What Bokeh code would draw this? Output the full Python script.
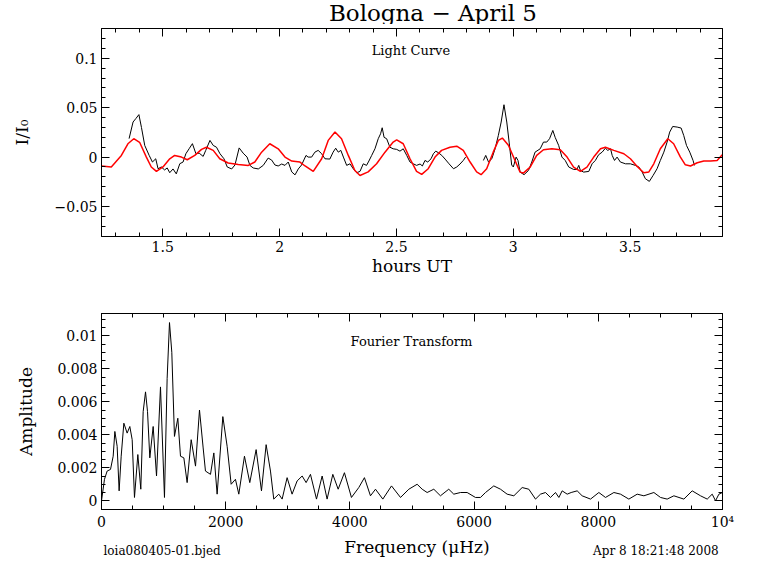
from bokeh.plotting import figure
from bokeh.models import FixedTicker, LinearAxis, Label, Range1d, CustomLabelingPolicy
from bokeh.layouts import column
from bokeh.embed import file_html
from bokeh.resources import INLINE

# ---------------- data: light curve (hours UT, I/I0) ----------------
lc1_hours = [1.356, 1.373, 1.385, 1.398, 1.409, 1.423, 1.442, 1.456, 1.470, 1.480, 1.494, 1.508, 1.519,
             1.530, 1.544, 1.558, 1.573, 1.587, 1.599, 1.613, 1.627, 1.642, 1.656, 1.673, 1.684, 1.702,
             1.716, 1.730, 1.745, 1.762, 1.776, 1.795, 1.809, 1.827, 1.844, 1.861, 1.873, 1.887, 1.909,
             1.930, 1.951, 1.966, 1.980, 1.994, 2.009, 2.023, 2.037, 2.052, 2.066, 2.080, 2.094, 2.113,
             2.122, 2.137, 2.151, 2.165, 2.180, 2.194, 2.215, 2.229, 2.240, 2.251, 2.262, 2.273, 2.287,
             2.301, 2.315, 2.330, 2.344, 2.358, 2.372, 2.382, 2.394, 2.408, 2.422, 2.432, 2.439, 2.447,
             2.458, 2.472, 2.486, 2.501, 2.515, 2.529, 2.544, 2.558, 2.572, 2.586, 2.601, 2.611, 2.622,
             2.634, 2.648, 2.658, 2.668, 2.679, 2.694, 2.708, 2.725, 2.744, 2.758, 2.772, 2.786, 2.796]
lc1_flux = [0.0187, 0.0355, 0.039, 0.043, 0.030, 0.0118, 0.0017, -0.005, -0.0017, -0.0118, -0.010, -0.013, -0.011,
            -0.0158, -0.012, -0.017, -0.0067, -0.005, 0.0034, 0.0085, 0.0136, 0.0034, 0.004, 0.0007, 0.0068, 0.0169,
            0.0118, 0.010, 0.0034, -0.0017, -0.010, -0.012, -0.008, 0.0093, 0.004, 0.0, -0.0084, -0.011, -0.012,
            -0.0084, -0.001, -0.003, -0.008, -0.009, -0.007, -0.0084, -0.005, -0.015, -0.018, -0.012, -0.008, 0.0017,
            0.0, 0.0, 0.005, 0.0068, 0.0034, -0.0017, -0.002, 0.005, 0.009, 0.005, 0.0068, 0.0, -0.0084,
            -0.0068, -0.0118, -0.0158, -0.0145, -0.0068, -0.0084, -0.004, 0.0017, 0.0084, 0.0186, 0.0236, 0.0297, 0.020,
            0.0186, 0.010, 0.0084, 0.0078, 0.006, 0.0084, 0.0017, -0.005, -0.0068, -0.0084, -0.007, -0.009, -0.0034,
            -0.005, -0.0017, 0.0034, 0.006, 0.0045, 0.0017, -0.002, -0.0068, -0.0118, -0.010, -0.007, -0.0034, 0.0]

lc2_hours = [2.872, 2.882, 2.894, 2.908, 2.922, 2.936, 2.948, 2.960, 2.972, 2.982, 2.993, 3.000, 3.012,
             3.020, 3.029, 3.046, 3.065, 3.079, 3.093, 3.115, 3.129, 3.143, 3.155, 3.169, 3.179, 3.194,
             3.208, 3.222, 3.237, 3.258, 3.272, 3.280, 3.287, 3.301, 3.323, 3.337, 3.351, 3.365, 3.380,
             3.394, 3.404, 3.416, 3.423, 3.433, 3.444, 3.458, 3.480, 3.501, 3.522, 3.537, 3.551, 3.565,
             3.582, 3.598, 3.615, 3.629, 3.644, 3.658, 3.669, 3.682, 3.701, 3.718, 3.729, 3.741, 3.755,
             3.769, 3.775]
lc2_flux = [-0.0034, 0.0017, -0.005, -0.0017, 0.0084, 0.022, 0.0355, 0.053, 0.0355, 0.0152, -0.008, -0.010, 0.0,
            -0.0034, -0.0152, -0.0178, -0.0135, -0.005, 0.005, 0.0084, 0.0152, 0.0152, 0.0186, 0.027, 0.020, 0.0118,
            0.0, -0.0034, -0.010, -0.0125, -0.0125, -0.0084, -0.0135, -0.0152, -0.0145, -0.0068, -0.0034, 0.0024, 0.005,
            0.009, 0.0068, 0.0084, 0.0017, -0.0034, 0.0, -0.005, -0.0068, -0.0068, -0.0084, -0.010, -0.015, -0.0219,
            -0.0246, -0.0186, -0.0118, -0.0034, 0.005, 0.0152, 0.0253, 0.031, 0.0304, 0.0294, 0.022, 0.0118, 0.005,
            -0.0034, -0.0084]

# ---------------- data: fit (red) ----------------
fit_hours = [1.237, 1.280, 1.323, 1.351, 1.376, 1.401, 1.430, 1.451, 1.473, 1.501, 1.530, 1.551, 1.580,
             1.605, 1.637, 1.666, 1.687, 1.716, 1.744, 1.780, 1.823, 1.866, 1.894, 1.923, 1.958, 1.994,
             2.023, 2.052, 2.087, 2.109, 2.144, 2.180, 2.208, 2.237, 2.265, 2.294, 2.322, 2.344, 2.379,
             2.415, 2.451, 2.486, 2.501, 2.529, 2.558, 2.586, 2.608, 2.636, 2.665, 2.693, 2.729, 2.758,
             2.786, 2.815, 2.843, 2.862, 2.886, 2.914, 2.936, 2.953, 2.979, 3.004, 3.029, 3.043, 3.072,
             3.100, 3.129, 3.165, 3.201, 3.230, 3.258, 3.287, 3.315, 3.344, 3.373, 3.394, 3.430, 3.473,
             3.501, 3.530, 3.558, 3.580, 3.601, 3.629, 3.661, 3.686, 3.715, 3.736, 3.758, 3.787, 3.815,
             3.844, 3.872, 3.894]
fit_flux = [-0.009, -0.0101, 0.0017, 0.0135, 0.0186, 0.015, 0.0, -0.010, -0.0145, -0.010, -0.0017, 0.0017, 0.0,
            -0.0027, 0.0017, 0.0078, 0.010, 0.0068, -0.0017, -0.006, -0.0074, -0.0084, -0.005, 0.005, 0.0135, 0.0084,
            0.0, -0.004, -0.005, -0.009, -0.0145, -0.0017, 0.0169, 0.0254, 0.0186, 0.0017, -0.0135, -0.0186, -0.015,
            -0.0068, 0.005, 0.0152, 0.0175, 0.0135, -0.0017, -0.0145, -0.0175, -0.0118, 0.0, 0.0068, 0.010, 0.011,
            0.0068, -0.005, -0.015, -0.0178, -0.0118, 0.005, 0.0169, 0.0193, 0.012, -0.0017, -0.0152, -0.0162, -0.0101,
            0.0017, 0.0074, 0.0084, 0.0074, 0.0, -0.0101, -0.0145, -0.0101, 0.0, 0.0084, 0.010, 0.0068, 0.0034,
            -0.0017, -0.0094, -0.0158, -0.015, -0.0068, 0.0084, 0.0186, 0.0135, 0.0, -0.0078, -0.009, -0.0057, -0.004,
            -0.004, -0.0034, 0.0024]

# ---------------- data: Fourier transform (uHz, amplitude) ----------------
ft_freq = [0, 48, 91, 145, 188, 215, 252, 284, 317, 360, 413, 456, 494, 531, 585, 633, 671, 709, 741, 778,
           832, 886, 950, 1014, 1057, 1095, 1132, 1175, 1229, 1272, 1326, 1379, 1444, 1514, 1578, 1637, 1674,
           1755, 1809, 1862, 1954, 2023, 2088, 2157, 2211, 2302, 2388, 2490, 2576, 2651, 2721, 2774, 2855,
           2909, 2989, 3069, 3150, 3231, 3295, 3365, 3462, 3553, 3633, 3725, 3811, 3912, 4025, 4143, 4234,
           4331, 4412, 4530, 4670, 4815, 4949, 5083, 5164, 5244, 5351, 5458, 5592, 5673, 5781, 5888, 6022,
           6103, 6184, 6317, 6425, 6532, 6640, 6774, 6881, 6989, 7069, 7150, 7230, 7311, 7365, 7418, 7499,
           7563, 7660, 7740, 7875, 8009, 8116, 8251, 8358, 8492, 8626, 8734, 8895, 9002, 9109, 9217, 9378,
           9512, 9646, 9754, 9834, 9888, 9942, 10000]
ft_amp = [0.0, 0.0013, 0.0018, 0.0019, 0.0027, 0.0042, 0.0033, 0.0006, 0.0027, 0.0047, 0.0041, 0.0045, 0.0037,
          0.0002, 0.0028, 0.0007, 0.0054, 0.0066, 0.0054, 0.0026, 0.0045, 0.0015, 0.0069, 0.0002, 0.0074, 0.0108,
          0.0090, 0.0039, 0.0050, 0.0027, 0.0026, 0.0011, 0.0037, 0.0021, 0.0055, 0.0032, 0.0018, 0.0016, 0.0029,
          0.0004, 0.0051, 0.0033, 0.0010, 0.0013, 0.0004, 0.0027, 0.0011, 0.0031, 0.0006, 0.0034, 0.0018, 0.0001,
          0.0004, 0.0001, 0.0014, 0.0004, 0.0012, 0.0015, 0.0011, 0.0016, 0.0001, 0.0015, 0.0001, 0.0016, 0.0007,
          0.0017, 0.0002, 0.0008, 0.0014, 0.0003, 0.0007, 0.0001, 0.0009, 0.0002, 0.0007, 0.0010, 0.0007, 0.0005,
          0.0007, 0.0003, 0.0007, 0.0004, 0.0005, 0.0005, 0.0002, 0.0002, 0.0005, 0.0009, 0.0007, 0.0004, 0.0003,
          0.0008, 0.0007, 0.0001, 0.0004, 0.0005, 0.0002, 0.0005, 0.0002, 0.0006, 0.0004, 0.0005, 0.0006, 0.0003,
          0.0001, 0.0005, 0.0002, 0.0005, 0.0004, 0.0001, 0.0004, 0.0003, 0.0005, 0.0002, 0.0001, 0.0003, 0.0001,
          0.0006, 0.0003, 0.0001, 0.0004, 0.0, 0.0004, 0.0005]

# ---------------- ticks and labels ----------------
lc_xticks = [1.5, 2.0, 2.5, 3.0, 3.5]
lc_xlabels = ["1.5", "2", "2.5", "3", "3.5"]
lc_xminor = [round(1.3 + 0.1 * i, 2) for i in range(26)]
lc_yticks = [-0.05, 0.0, 0.05, 0.1]
lc_ylabels = ["\u22120.05", "0", "0.05", "0.1"]
lc_yminor = [round(-0.07 + 0.01 * i, 3) for i in range(20)]

ft_xticks = [0, 2000, 4000, 6000, 8000, 10000]
ft_xlabels = ["0", "2000", "4000", "6000", "8000", "10\u2074"]
ft_xminor = [500 * i for i in range(21)]
ft_yticks = [0.0, 0.002, 0.004, 0.006, 0.008, 0.01]
ft_ylabels = ["0", "0.002", "0.004", "0.006", "0.008", "0.01"]
ft_yminor = [round(0.0005 * i, 4) for i in range(23)]

TITLE = "Bologna \u2212 April 5"
LC_NOTE = "Light Curve"
FT_NOTE = "Fourier Transform"
LC_XLABEL = "hours UT"
LC_YLABEL = "I/I\u2080"
FT_XLABEL = "Frequency (\u03bcHz)"
FT_YLABEL = "Amplitude"
FOOT_LEFT = "loia080405-01.bjed"
FOOT_RIGHT = "Apr  8 18:21:48 2008"

FONT = "DejaVu Serif"
TICK_FS = "14px"
LAB_FS = "17px"

FRAME_L = 101
FRAME_W = 621
X1 = (1.238, 3.895)
Y1 = (-0.0804, 0.1302)
X2 = (0, 10000)
Y2 = (-0.00053, 0.01135)

HIDE = "for (const i of indices) { indices.unset(i) }\nreturn indices"


def style(p, xt, xl, xm, yt, yl, ym, xlab, ylab, ylab_standoff):
    p.xgrid.visible = False
    p.ygrid.visible = False
    p.outline_line_color = "black"
    p.outline_line_width = 1
    p.background_fill_color = "white"
    p.border_fill_color = "white"
    bottom = p.below[0]
    left = p.left[0]
    bottom.ticker = FixedTicker(ticks=xt, minor_ticks=xm)
    bottom.major_label_overrides = {t: l for t, l in zip(xt, xl)}
    left.ticker = FixedTicker(ticks=yt, minor_ticks=ym)
    left.major_label_overrides = {t: l for t, l in zip(yt, yl)}
    bottom.axis_label = xlab
    left.axis_label = ylab
    for ax in (bottom, left):
        ax.major_label_text_font = FONT
        ax.major_label_text_font_size = TICK_FS
        ax.major_label_text_color = "black"
        ax.axis_label_text_font = FONT
        ax.axis_label_text_font_size = LAB_FS
        ax.axis_label_text_font_style = "normal"
        ax.axis_label_text_color = "black"
    bottom.major_label_standoff = 4
    bottom.axis_label_standoff = 1
    left.major_label_standoff = 4
    left.axis_label_standoff = ylab_standoff
    top = LinearAxis(ticker=FixedTicker(ticks=xt, minor_ticks=xm))
    right = LinearAxis(ticker=FixedTicker(ticks=yt, minor_ticks=ym))
    for ax in (top, right):
        ax.major_label_policy = CustomLabelingPolicy(code=HIDE)
        ax.major_label_text_font_size = "1px"
        ax.major_label_standoff = 0
    p.add_layout(top, "above")
    p.add_layout(right, "right")
    for ax in (bottom, left, top, right):
        ax.axis_line_color = "black"
        ax.major_tick_in = 8
        ax.major_tick_out = 0
        ax.minor_tick_in = 4
        ax.minor_tick_out = 0
        ax.major_tick_line_color = "black"
        ax.minor_tick_line_color = "black"


def strip(height, xr):
    # text-only band; its frame lines up with the plot frames in the column
    s = figure(frame_width=FRAME_W, frame_height=height, x_range=xr, y_range=Range1d(0, 1),
               x_axis_type=None, y_axis_type=None, output_backend="svg", toolbar_location=None,
               min_border_left=FRAME_L, min_border_right=40, min_border_top=0, min_border_bottom=0)
    s.outline_line_color = None
    s.background_fill_color = "white"
    s.border_fill_color = "white"
    s.xgrid.visible = False
    s.ygrid.visible = False
    return s


# ---- title strip ----
p0 = strip(24, Range1d(*X1))
p0.add_layout(Label(x=2.656, y=0.5, text=TITLE, text_font=FONT, text_font_size="23px",
                    text_align="center", text_baseline="middle", text_color="black"))

# ---- light curve ----
p1 = figure(frame_width=FRAME_W, frame_height=208, x_range=Range1d(*X1), y_range=Range1d(*Y1),
            output_backend="svg", toolbar_location=None,
            min_border_left=FRAME_L, min_border_right=40, min_border_top=2, min_border_bottom=54)
p1.line(lc1_hours, lc1_flux, line_color="black", line_width=1)
p1.line(lc2_hours, lc2_flux, line_color="black", line_width=1)
p1.line(fit_hours, fit_flux, line_color="#ff0000", line_width=1.5)
style(p1, lc_xticks, lc_xlabels, lc_xminor, lc_yticks, lc_ylabels, lc_yminor, LC_XLABEL, LC_YLABEL, 20)
p1.add_layout(Label(x=2.562, y=0.1082, text=LC_NOTE, text_font=FONT, text_font_size="13px",
                    text_align="center", text_baseline="middle", text_color="black"))

# ---- Fourier transform ----
p2 = figure(frame_width=FRAME_W, frame_height=196, x_range=Range1d(*X2), y_range=Range1d(*Y2),
            output_backend="svg", toolbar_location=None,
            min_border_left=FRAME_L, min_border_right=40, min_border_top=23, min_border_bottom=19)
p2.line(ft_freq, ft_amp, line_color="black", line_width=1)
style(p2, ft_xticks, ft_xlabels, ft_xminor, ft_yticks, ft_ylabels, ft_yminor, None, FT_YLABEL, 18)
p2.add_layout(Label(x=4992, y=0.00965, text=FT_NOTE, text_font=FONT, text_font_size="13px",
                    text_align="center", text_baseline="middle", text_color="black"))

# ---- footer strip: x label of the spectrum and file/date stamps ----
p3 = strip(36, Range1d(*X2))
p3.add_layout(Label(x=5080, y=0.6, text=FT_XLABEL, text_font=FONT, text_font_size=LAB_FS,
                    text_align="center", text_baseline="middle", text_color="black"))
p3.add_layout(Label(x=32, y=0.5, text=FOOT_LEFT, text_font=FONT, text_font_size="12px",
                    text_align="left", text_baseline="middle", text_color="black"))
p3.add_layout(Label(x=10000, y=0.5, text=FOOT_RIGHT, text_font=FONT, text_font_size="12px",
                    text_align="right", text_baseline="middle", text_color="black"))

layout = column(p0, p1, p2, p3)
open("out.html", "w").write(file_html(layout, INLINE))
